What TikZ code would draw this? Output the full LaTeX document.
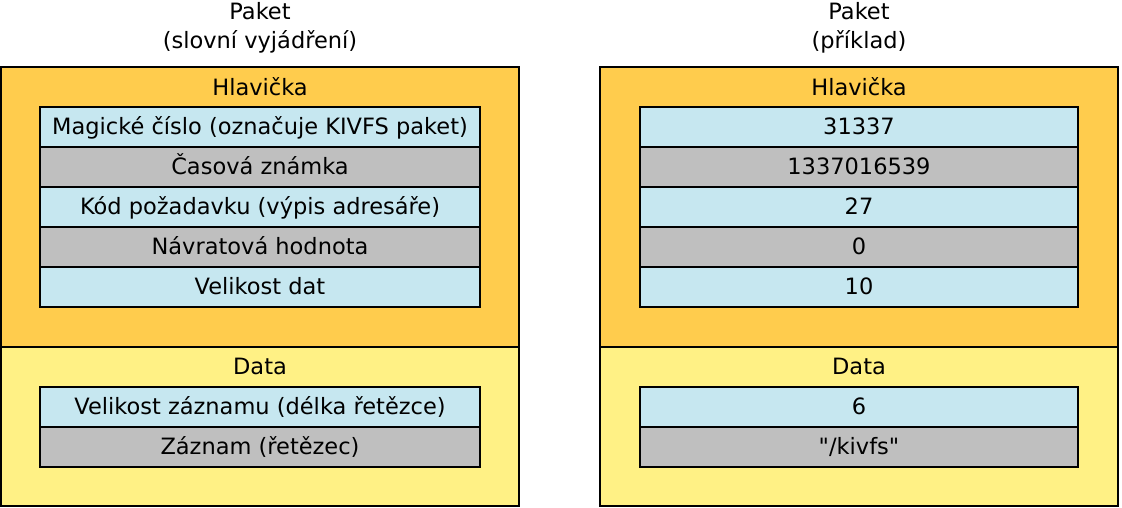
\documentclass[tikz,border=0pt]{standalone}
\usepackage{fontspec}
\newfontfamily\pismo{DejaVu Sans}
\definecolor{hlavbarva}{RGB}{255,204,77}
\definecolor{databarva}{RGB}{255,241,133}
\definecolor{modra}{RGB}{198,231,240}
\definecolor{seda}{RGB}{191,191,191}
\begin{document}
\begin{tikzpicture}[x=1pt,y=-1pt,
    every node/.style={font=\pismo\fontsize{22.5}{29}\selectfont,inner sep=0pt},
    blok/.style={draw,line width=1.6pt,minimum width=518pt},
    radek/.style={draw,line width=1.6pt,minimum height=40pt,
      text height=18pt,text depth=3pt}]
  \path[use as bounding box] (0,0) rectangle (1122,508);
  % levy paket
  \node[align=center] (nadpis1) at (260,28) {Paket\\(slovní vyjádření)};
  \node[blok,fill=hlavbarva,minimum height=280pt] (hlav1) at (260,207) {};
  \node[blok,fill=databarva,minimum height=159pt] (data1) at (260,426.5) {};
  \node (th1) at (260,87) {Hlavička};
  \node (td1) at (260,366) {Data};
  \foreach \t [count=\i] in {Magické číslo (označuje KIVFS paket),Časová známka,
      Kód požadavku (výpis adresáře),Návratová hodnota,Velikost dat}{
    \pgfmathsetmacro\barva{isodd(\i) ? "modra" : "seda"}
    \node[radek,fill=\barva,minimum width=440pt] (l\i) at (260,87+40*\i) {\t};
  }
  \node[radek,fill=modra,minimum width=440pt] (ld1) at (260,407) {Velikost záznamu (délka řetězce)};
  \node[radek,fill=seda,minimum width=440pt] (ld2) at (260,447) {Záznam (řetězec)};
  % pravy paket
  \node[align=center] (nadpis2) at (859,28) {Paket\\(příklad)};
  \node[blok,fill=hlavbarva,minimum height=280pt] (hlav2) at (859,207) {};
  \node[blok,fill=databarva,minimum height=159pt] (data2) at (859,426.5) {};
  \node (th2) at (859,87) {Hlavička};
  \node (td2) at (859,366) {Data};
  \foreach \t [count=\i] in {31337,1337016539,27,0,10}{
    \pgfmathsetmacro\barva{isodd(\i) ? "modra" : "seda"}
    \node[radek,fill=\barva,minimum width=438pt] (p\i) at (859,87+40*\i) {\t};
  }
  \node[radek,fill=modra,minimum width=438pt] (pd1) at (859,407) {6};
  \node[radek,fill=seda,minimum width=438pt] (pd2) at (859,447) {"/kivfs"};
\end{tikzpicture}
\end{document}
